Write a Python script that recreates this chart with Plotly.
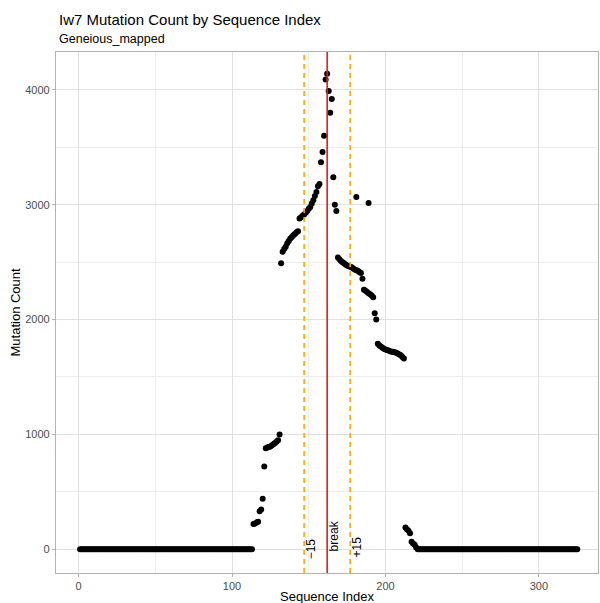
import plotly.graph_objects as go

# ---------------- data ----------------
left_zero_idx = list(range(1, 114))
left_zero_cnt = [0] * len(left_zero_idx)

mid_idx = list(range(114, 221))
mid_cnt = [
    220, 225, 232, 240, 330, 345, 440, 720, 880, 885, 890, 895, 905, 915, 925, 935, 950, 1000,
    2490, 2590, 2615, 2635, 2665, 2685, 2705, 2720, 2735, 2745, 2760, 2770,
    2880, 2890, 2905, 2915, 2930, 2945, 2965, 2980, 3010, 3040, 3075, 3110, 3160, 3180,
    3370, 3460, 3600, 4090, 4140, 3990, 3800, 3920, 3240, 3000, 2945,
    2540, 2525, 2510, 2500, 2490, 2480, 2470, 2465, 2460, 2455, 2445, 2435, 2430, 2425, 2415, 2405, 2355,
    2260, 2250, 2240, 2230, 2220, 2210, 2195, 2055, 2000,
    1790, 1775, 1765, 1755, 1745, 1740, 1735, 1730, 1725, 1720, 1720, 1715, 1710, 1705, 1695, 1690, 1675, 1660,
    190, 175, 160, 140, 65, 50, 40, 15,
]

outlier_idx = [181, 189]
outlier_cnt = [3067, 3015]

right_zero_idx = list(range(221, 326))
right_zero_cnt = [0] * len(right_zero_idx)

seq_index = left_zero_idx + mid_idx + outlier_idx + right_zero_idx
mutation_count = left_zero_cnt + mid_cnt + outlier_cnt + right_zero_cnt

BREAK = 162
WINDOW = 15
x_ticks = [0, 100, 200, 300]
y_ticks = [0, 1000, 2000, 3000, 4000]

TITLE = "Iw7 Mutation Count by Sequence Index"
SUBTITLE = "Geneious_mapped"
X_TITLE = "Sequence Index"
Y_TITLE = "Mutation Count"

FONT = "Liberation Sans, Arial, Helvetica, sans-serif"

# ---------------- figure ----------------
fig = go.Figure()
fig.add_trace(go.Scatter(
    x=seq_index, y=mutation_count, mode="markers",
    marker=dict(color="black", size=6, line=dict(width=0)),
    showlegend=False, hoverinfo="x+y",
))

# vertical reference lines
fig.add_shape(type="line", xref="x", yref="paper", x0=BREAK, x1=BREAK, y0=0, y1=1,
              line=dict(color="#E41A1C", width=1.6))
for off in (-WINDOW, WINDOW):
    fig.add_shape(type="line", xref="x", yref="paper", x0=BREAK + off, x1=BREAK + off, y0=0, y1=1,
                  line=dict(color="#FFA500", width=1.6, dash="5px,4px"))

labels = [(BREAK - WINDOW, "\u221215", 0), (BREAK, "break", 13), (BREAK + WINDOW, "+15", 2)]
for xv, txt, ys in labels:
    fig.add_annotation(x=xv, y=0, xref="x", yref="y", text=txt, showarrow=False,
                       textangle=-90, xshift=7, yshift=ys,
                       font=dict(family=FONT, size=12, color="black"))

fig.update_layout(
    width=600, height=603,
    margin=dict(l=56, r=2, t=52, b=30),
    paper_bgcolor="white", plot_bgcolor="white",
    font=dict(family=FONT, color="black"),
    showlegend=False,
)

fig.add_annotation(text=TITLE, xref="paper", yref="paper", x=0, y=1, xanchor="left", yanchor="middle",
                   yshift=52 - 19, xshift=1, showarrow=False,
                   font=dict(family=FONT, size=15, color="black"))
fig.add_annotation(text=SUBTITLE, xref="paper", yref="paper", x=0, y=1, xanchor="left", yanchor="middle",
                   yshift=52 - 39, xshift=1, showarrow=False,
                   font=dict(family=FONT, size=12.5, color="black"))
fig.add_annotation(text=X_TITLE, xref="paper", yref="paper", x=0.5, y=0, xanchor="center", yanchor="middle",
                   yshift=-(596 - 573), showarrow=False,
                   font=dict(family=FONT, size=13, color="black"))
fig.add_annotation(text=Y_TITLE, xref="paper", yref="paper", x=0, y=0.5, xanchor="center", yanchor="middle",
                   xshift=-(56 - 15), textangle=-90, showarrow=False,
                   font=dict(family=FONT, size=13, color="black"))

axis_common = dict(
    showline=True, linecolor="#B3B3B3", linewidth=1.2, mirror=True,
    ticks="outside", ticklen=3, tickcolor="#B3B3B3", tickwidth=1,
    showgrid=True, gridcolor="#E0E0E0", gridwidth=1,
    zeroline=False,
    tickfont=dict(family=FONT, size=11, color="#4D4D4D"),
)

fig.update_xaxes(range=[-14.7, 338.5], tickvals=x_ticks,
                 minor=dict(dtick=50, tick0=0, showgrid=True, gridcolor="#EDEDED", gridwidth=0.6, ticks=""),
                 **axis_common)
fig.update_yaxes(range=[-207, 4330], tickvals=y_ticks,
                 minor=dict(dtick=500, tick0=0, showgrid=True, gridcolor="#EDEDED", gridwidth=0.6, ticks=""),
                 **axis_common)

fig.write_html("out.html", config={"displayModeBar": False},
               post_script="document.body.style.margin='0px';")
